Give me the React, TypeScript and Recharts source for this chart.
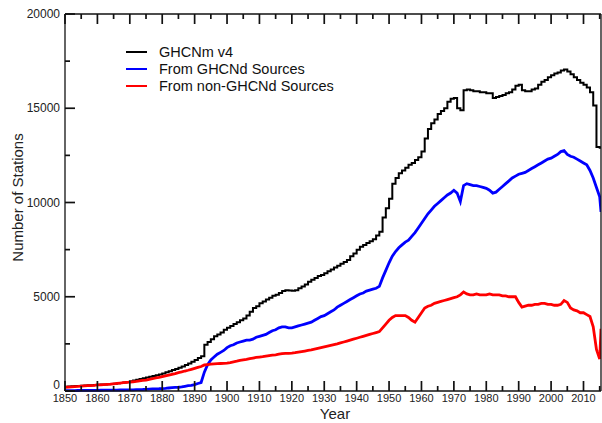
import React from 'react';
import { LineChart, Line, XAxis, YAxis } from 'recharts';

const FONT = '"Liberation Sans", Arial, Helvetica, sans-serif';

const years: number[] = [];
for (let y = 1850; y <= 2015; y++) years.push(y);
years.push(2015.4);

const ghcnmV4: number[] = [
  230, 240, 250, 260, 270, 280, 290, 300, 310, 320,
  330, 340, 350, 360, 370, 390, 410, 430, 450, 480,
  520, 560, 600, 640, 680, 720, 760, 800, 840, 880,
  930, 990, 1050, 1110, 1170, 1230, 1300, 1380, 1460, 1550,
  1650, 1750, 1850, 2450, 2600, 2750, 2900, 3000, 3100, 3250,
  3350, 3450, 3550, 3650, 3750, 3850, 4000, 4200, 4400, 4500,
  4650, 4750, 4850, 4950, 5050, 5100, 5200, 5300, 5350, 5330,
  5320, 5350, 5450, 5550, 5650, 5800, 5900, 6000, 6100, 6150,
  6250, 6350, 6450, 6550, 6650, 6750, 6850, 6950, 7150, 7300,
  7500, 7650, 7750, 7850, 7950, 8050, 8250, 8450, 9200, 9700,
  10200, 11000, 11300, 11550, 11700, 11850, 12000, 12100, 12250, 12400,
  12700, 13400, 13900, 14200, 14400, 14700, 14850, 15000, 15350, 15500,
  15550, 15000, 14900, 15950, 16000, 15950, 15900, 15900, 15850, 15850,
  15800, 15800, 15550, 15600, 15650, 15700, 15800, 15850, 16000, 16200,
  16250, 15950, 15900, 15900, 16000, 16050, 16250, 16400, 16500, 16650,
  16750, 16850, 16900, 17000, 17050, 16950, 16800, 16650, 16500, 16350,
  16250, 16100, 15850, 15150, 12950, 12900, 12900,
];

const fromGhcnd: number[] = [
  20, 20, 22, 24, 26, 28, 30, 32, 34, 36,
  38, 40, 42, 44, 46, 48, 50, 52, 54, 56,
  60, 65, 70, 75, 80, 90, 100, 110, 115, 120,
  130, 140, 160, 175, 190, 200, 220, 250, 280, 300,
  340, 400, 450, 1000, 1400, 1650, 1800, 1950, 2050, 2150,
  2300, 2400, 2450, 2550, 2600, 2650, 2700, 2700, 2750, 2850,
  2900, 2950, 3000, 3100, 3200, 3250, 3350, 3400, 3400, 3350,
  3350, 3400, 3450, 3500, 3550, 3600, 3650, 3750, 3850, 3950,
  4000, 4100, 4200, 4300, 4450, 4550, 4650, 4750, 4850, 4950,
  5050, 5150, 5200, 5300, 5350, 5400, 5450, 5550, 6000, 6400,
  6800, 7150, 7400, 7600, 7750, 7900, 8000, 8200, 8400, 8650,
  8900, 9150, 9400, 9600, 9800, 9950, 10100, 10250, 10400, 10500,
  10650, 10500, 10050, 10900, 11000, 10950, 10900, 10900, 10850, 10800,
  10750, 10650, 10500, 10550, 10700, 10850, 11000, 11150, 11300, 11400,
  11500, 11550, 11600, 11700, 11800, 11900, 12000, 12100, 12200, 12300,
  12350, 12450, 12550, 12700, 12750, 12550, 12450, 12400, 12300, 12200,
  12100, 12000, 11700, 11300, 10800, 10300, 9500,
];

const fromNonGhcnd: number[] = [
  200, 210, 220, 230, 240, 260, 270, 280, 290, 300,
  320, 330, 340, 350, 360, 380, 400, 420, 440, 455,
  470, 490, 510, 540, 560, 580, 620, 650, 690, 720,
  760, 800, 840, 880, 920, 970, 1010, 1060, 1100, 1150,
  1200, 1250, 1300, 1380, 1400, 1420, 1440, 1450, 1460, 1470,
  1480, 1510, 1550, 1580, 1620, 1650, 1680, 1720, 1750, 1780,
  1800, 1820, 1850, 1880, 1900, 1920, 1950, 1980, 2000, 2000,
  2010, 2030, 2060, 2090, 2120, 2150, 2180, 2220, 2260, 2300,
  2340, 2380, 2420, 2460, 2500, 2550, 2600, 2650, 2700, 2750,
  2800, 2850, 2900, 2950, 3000, 3050, 3100, 3150, 3350, 3550,
  3750, 3900, 4000, 4000, 4000, 4000, 3900, 3750, 3650, 3900,
  4150, 4400, 4500, 4550, 4650, 4700, 4750, 4800, 4850, 4900,
  4950, 5000, 5100, 5250, 5150, 5100, 5100, 5150, 5100, 5100,
  5100, 5150, 5100, 5100, 5100, 5050, 5050, 5000, 5000, 5000,
  4700, 4450, 4500, 4550, 4550, 4600, 4600, 4650, 4650, 4600,
  4600, 4550, 4550, 4600, 4800, 4700, 4400, 4300, 4250, 4150,
  4150, 4050, 3950, 3400, 2200, 1700, 3300,
];

const xTicks: number[] = [];
for (let y = 1850; y <= 2015; y += 5) xTicks.push(y);
const yTicks: number[] = [0, 2500, 5000, 7500, 10000, 12500, 15000, 17500, 20000];

const seriesNames = ['GHCNm v4', 'From GHCNd Sources', 'From non-GHCNd Sources'];
const seriesColors = ['#000000', '#0000ff', '#ff0000'];

const data = years.map((yr, i) => ({
  year: yr,
  ghcnm: ghcnmV4[i],
  ghcnd: fromGhcnd[i],
  non: fromNonGhcnd[i],
}));

const AXIS = '#111';
const TEXT = '#222';
const TW = 1.7;
const TC = '#111';

const BottomTick = (props: any) => {
  const { x, y, payload } = props;
  const v = payload.value;
  const major = v % 10 === 0;
  const X = Number(x);
  const Y = Number(y);
  return (
    <g>
      <path d={`M${X},${Y}V${Y - (major ? 10 : 5)}`} stroke={TC} strokeWidth={TW} fill="none" />
      {major && (
        <text x={X} y={Y + 11} textAnchor="middle" fontFamily={FONT} fontSize={11} fill={TEXT}>
          {v}
        </text>
      )}
    </g>
  );
};

const TopTick = (props: any) => {
  const { x, y, payload } = props;
  const major = payload.value % 10 === 0;
  const X = Number(x);
  const Y = Number(y);
  return <path d={`M${X},${Y}V${Y + (major ? 10 : 5)}`} stroke={TC} strokeWidth={TW} fill="none" />;
};

const LeftTick = (props: any) => {
  const { x, y, payload } = props;
  const v = payload.value;
  const major = v % 5000 === 0;
  const X = Number(x);
  const Y = Number(y);
  return (
    <g>
      <path d={`M${X},${Y}H${X + (major ? 10 : 5)}`} stroke={TC} strokeWidth={TW} fill="none" />
      {major && (
        <text x={X - 5} y={v === 0 ? Y - 2 : Y + 4} textAnchor="end" fontFamily={FONT} fontSize={12} fill={TEXT}>
          {v}
        </text>
      )}
    </g>
  );
};

const RightTick = (props: any) => {
  const { x, y, payload } = props;
  const major = payload.value % 5000 === 0;
  const X = Number(x);
  const Y = Number(y);
  return <path d={`M${X},${Y}H${X - (major ? 10 : 5)}`} stroke={TC} strokeWidth={TW} fill="none" />;
};

const YTitle = (props: any) => {
  const vb = props.viewBox || { x: 0, y: 14, width: 65, height: 377 };
  const cx = 17;
  const cy = vb.y + vb.height / 2 - 5;
  return (
    <text
      x={cx}
      y={cy}
      transform={`rotate(-90 ${cx} ${cy})`}
      textAnchor="middle"
      dominantBaseline="central"
      fontFamily={FONT}
      fontSize={15}
      fill={TEXT}
    >
      Number of Stations
    </text>
  );
};

const XTitle = (props: any) => {
  const vb = props.viewBox || { x: 65, y: 391, width: 536, height: 32 };
  return (
    <text x={vb.x + vb.width / 2 + 2} y={419} textAnchor="middle" fontFamily={FONT} fontSize={15} fill={TEXT}>
      Year
    </text>
  );
};

const LegendBox = () => (
  <div
    style={{
      position: 'absolute',
      left: 126,
      top: 43,
      fontFamily: FONT,
      fontSize: 14.5,
      color: '#111',
      pointerEvents: 'none',
    }}
  >
    {seriesNames.map((name, i) => (
      <div key={name} style={{ display: 'flex', alignItems: 'center', height: 17, whiteSpace: 'nowrap' }}>
        <span style={{ display: 'inline-block', width: 21, height: 2, background: seriesColors[i], marginRight: 12 }} />
        <span>{name}</span>
      </div>
    ))}
  </div>
);

const axisLineStyle = { stroke: AXIS, strokeWidth: 1.3 };

export default function App() {
  return (
    <div style={{ position: 'absolute', left: 0, top: 0, width: 602, height: 423, background: '#fff' }}>
      <LineChart width={602} height={423} data={data} margin={{ top: 13, right: 0, bottom: 0, left: 0 }}>
        <XAxis
          dataKey="year"
          type="number"
          domain={[1850, 2015.4]}
          allowDataOverflow
          ticks={xTicks}
          interval={0}
          height={32}
          tickSize={0}
          tickMargin={0}
          tickLine={false}
          stroke={AXIS}
          axisLine={axisLineStyle}
          tick={<BottomTick />}
          label={<XTitle />}
        />
        <XAxis
          xAxisId="top"
          orientation="top"
          dataKey="year"
          type="number"
          domain={[1850, 2015.4]}
          allowDataOverflow
          ticks={xTicks}
          interval={0}
          height={1}
          tickSize={0}
          tickMargin={0}
          tickLine={false}
          stroke={AXIS}
          axisLine={axisLineStyle}
          tick={<TopTick />}
        />
        <YAxis
          type="number"
          domain={[0, 20000]}
          ticks={yTicks}
          interval={0}
          width={65}
          tickSize={0}
          tickMargin={0}
          tickLine={false}
          stroke={AXIS}
          axisLine={axisLineStyle}
          tick={<LeftTick />}
          label={<YTitle />}
        />
        <YAxis
          yAxisId="right"
          orientation="right"
          type="number"
          domain={[0, 20000]}
          ticks={yTicks}
          interval={0}
          width={1}
          tickSize={0}
          tickMargin={0}
          tickLine={false}
          stroke={AXIS}
          axisLine={axisLineStyle}
          tick={<RightTick />}
        />
        <Line
          type="stepAfter"
          dataKey="ghcnm"
          name={seriesNames[0]}
          stroke={seriesColors[0]}
          strokeWidth={2}
          dot={false}
          isAnimationActive={false}
        />
        <Line
          type="linear"
          dataKey="ghcnd"
          name={seriesNames[1]}
          stroke={seriesColors[1]}
          strokeWidth={2.8}
          dot={false}
          isAnimationActive={false}
        />
        <Line
          type="linear"
          dataKey="non"
          name={seriesNames[2]}
          stroke={seriesColors[2]}
          strokeWidth={2.8}
          dot={false}
          isAnimationActive={false}
        />
      </LineChart>
      <LegendBox />
    </div>
  );
}
